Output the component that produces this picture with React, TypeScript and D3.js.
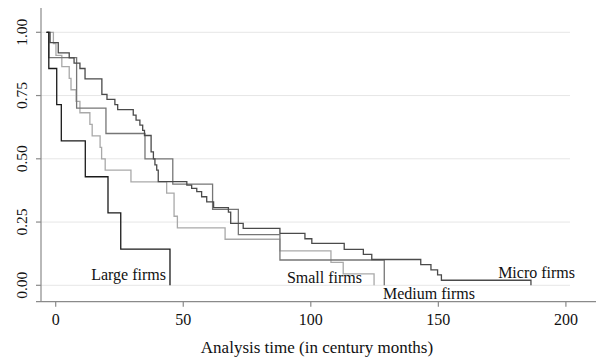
import React from 'react';
import * as d3 from 'd3';

const width = 596;
const height = 359;

// survival curves: analysis time (century months) and survivor value
const startTime = -3.6;

const largeTimes = [-2.7, 0.4, 2.2, 11.6, 20.5, 25.5, 44.8];
const largeSurv = [0.857, 0.714, 0.571, 0.429, 0.286, 0.143, 0];

const mediumTimes = [-2.7, 8.2, 19.7, 35.0, 45.9, 61.5, 71.6, 87.9, 128.8];
const mediumSurv = [0.9, 0.7, 0.6, 0.5, 0.4, 0.3, 0.2, 0.1, 0];

const smallTimes = [-0.9, 0.1, 2.4, 5.3, 6.0, 8.0, 9.5, 13.4, 14.3, 17.4, 18.0, 19.4, 29.5, 43.5, 46.4, 47.7, 66.4, 87.9, 107.9, 112.7, 124.8];
const smallSurv = [0.955, 0.909, 0.864, 0.818, 0.773, 0.727, 0.682, 0.636, 0.591, 0.545, 0.5, 0.455, 0.409, 0.364, 0.273, 0.227, 0.182, 0.136, 0.091, 0.045, 0];

const microTimes = [-2.2, 1.0, 5.3, 7.2, 9.5, 11.5, 18.1, 20.1, 23.2, 24.3, 30.4, 31.5, 33.0, 34.1, 34.8, 37.4, 38.3, 38.9, 39.6, 40.2, 51.4, 53.3, 55.3, 57.2, 59.2, 61.9, 67.7, 68.6, 73.5, 87.9, 97.7, 100.4, 113.1, 120.6, 123.9, 143.1, 147.1, 149.7, 151.2, 186.3];
const microSurv = [0.959, 0.919, 0.899, 0.878, 0.857, 0.816, 0.755, 0.735, 0.714, 0.694, 0.673, 0.653, 0.633, 0.612, 0.592, 0.527, 0.5, 0.476, 0.455, 0.41, 0.396, 0.383, 0.37, 0.35, 0.33, 0.307, 0.289, 0.245, 0.225, 0.205, 0.184, 0.166, 0.142, 0.122, 0.102, 0.082, 0.061, 0.041, 0.02, 0];

const xTicks = [0, 50, 100, 150, 200];
const yTicks = [0, 0.25, 0.5, 0.75, 1];

const series = [
  { name: 'Small firms', times: smallTimes, surv: smallSurv, color: '#a9a9a9', lx: 362, ly: 283, anchor: 'end' },
  { name: 'Medium firms', times: mediumTimes, surv: mediumSurv, color: '#767676', lx: 383, ly: 299, anchor: 'start' },
  { name: 'Micro firms', times: microTimes, surv: microSurv, color: '#4a4a4a', lx: 575, ly: 278, anchor: 'end' },
  { name: 'Large firms', times: largeTimes, surv: largeSurv, color: '#1a1a1a', lx: 166, ly: 280, anchor: 'end' },
];

const font = '"Liberation Serif", "Times New Roman", serif';

const App = () => {
  const xScale = d3.scaleLinear().domain([0, 200]).range([55.7, 565.9]);
  const yScale = d3.scaleLinear().domain([0, 1]).range([285.3, 32.3]);

  const axisX = 41;
  const axisY = 301.7;

  const stepLine = d3
    .line<[number, number]>()
    .x(d => xScale(d[0]))
    .y(d => yScale(d[1]))
    .curve(d3.curveStepAfter);

  return (
    <svg
      width={width}
      height={height}
      style={{ position: 'absolute', left: 0, top: 0, background: '#fff' }}
      fontFamily={font}
    >
      {/* grid */}
      {yTicks.map(t => (
        <line key={'g' + t} x1={axisX} x2={570} y1={yScale(t)} y2={yScale(t)} stroke="#e6e6e6" strokeWidth={1} />
      ))}

      {/* curves */}
      {series.map(s => {
        const pts: [number, number][] = [[startTime, 1], ...s.times.map((t, i) => [t, s.surv[i]] as [number, number])];
        return <path key={s.name} d={stepLine(pts) || ''} fill="none" stroke={s.color} strokeWidth={1.3} />;
      })}

      {/* labels */}
      {series.map(s => (
        <text key={'l' + s.name} x={s.lx} y={s.ly} textAnchor={s.anchor} fontSize={16} fill="#111">
          {s.name}
        </text>
      ))}

      {/* y axis */}
      <line x1={axisX} x2={axisX} y1={8} y2={axisY} stroke="#8a8a8a" strokeWidth={1.2} />
      {yTicks.map(t => (
        <g key={'y' + t} transform={`translate(0,${yScale(t)})`}>
          <line x1={36} x2={axisX} stroke="#8a8a8a" strokeWidth={1.2} />
          <text transform={`translate(27,0) rotate(-90)`} textAnchor="middle" fontSize={15.5} fill="#111">
            {d3.format('.2f')(t)}
          </text>
        </g>
      ))}

      {/* x axis */}
      <line x1={36} x2={width} y1={axisY} y2={axisY} stroke="#8a8a8a" strokeWidth={1.2} />
      {xTicks.map(t => (
        <g key={'x' + t} transform={`translate(${xScale(t)},0)`}>
          <line y1={axisY} y2={axisY + 5} stroke="#8a8a8a" strokeWidth={1.2} />
          <text y={325} textAnchor="middle" fontSize={16} fill="#111">
            {t}
          </text>
        </g>
      ))}
      <text x={317} y={353} textAnchor="middle" fontSize={17} fill="#111">
        Analysis time (in century months)
      </text>
    </svg>
  );
};

export default App;
